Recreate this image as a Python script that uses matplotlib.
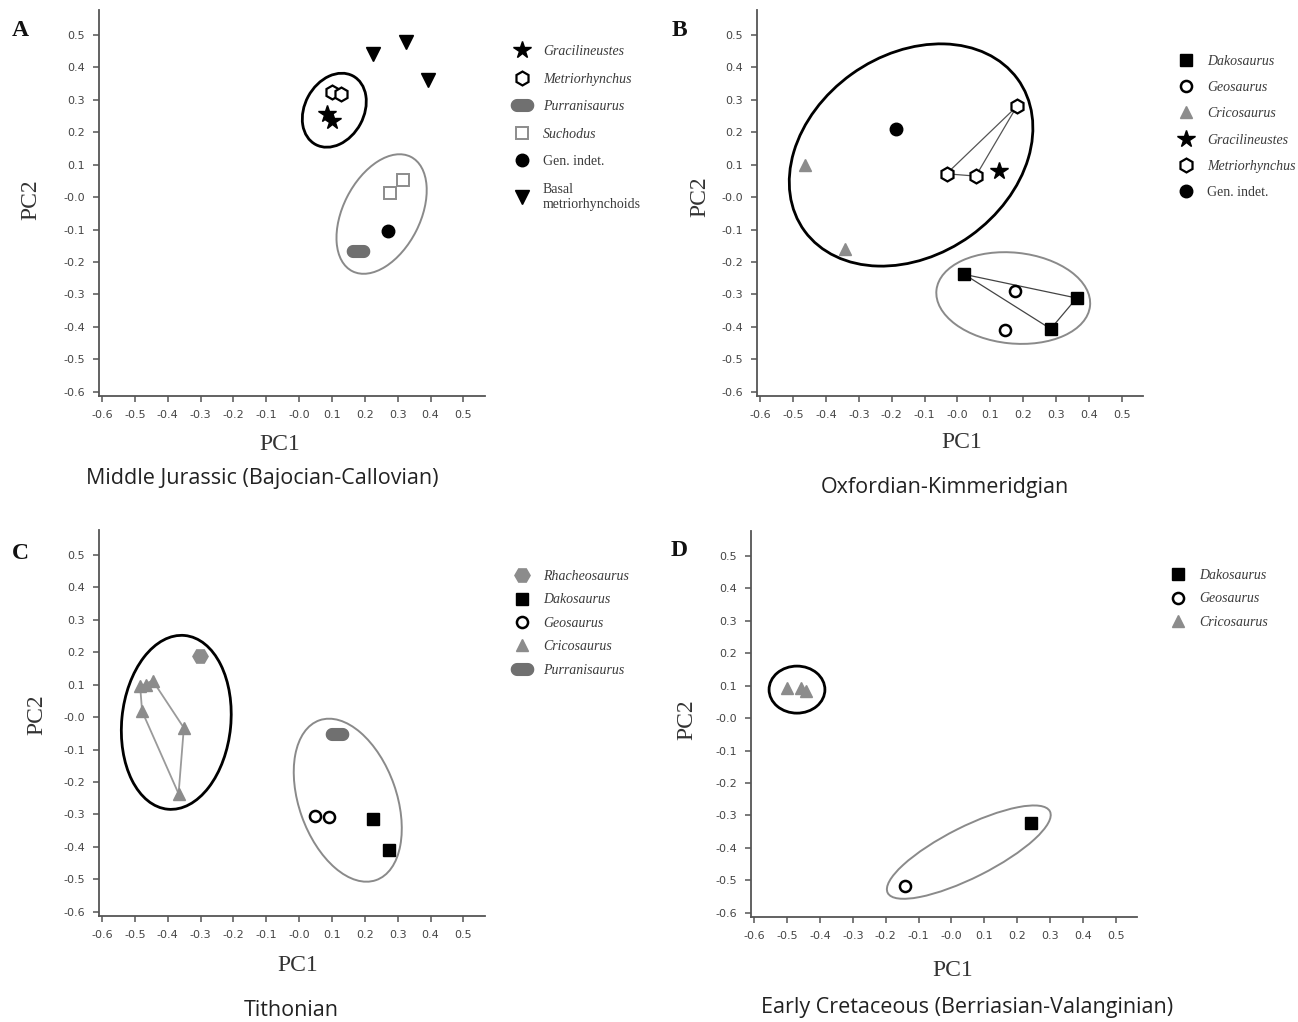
import numpy as np
import matplotlib
matplotlib.use("Agg")
import matplotlib.pyplot as plt
from matplotlib.patches import Ellipse
from matplotlib.path import Path
from matplotlib.font_manager import FontProperties


# ---- panel A: Middle Jurassic ----
a_grac_x = [0.085, 0.10]
a_grac_y = [0.257, 0.234]
a_metrio_x = [0.10, 0.126]
a_metrio_y = [0.324, 0.317]
a_purran_x = [0.18]
a_purran_y = [-0.166]
a_such_x = [0.277, 0.316]
a_such_y = [0.012, 0.053]
a_gen_x = [0.27]
a_gen_y = [-0.103]
a_basal_x = [0.224, 0.325, 0.392]
a_basal_y = [0.442, 0.478, 0.36]

# ---- panel B: Oxfordian-Kimmeridgian ----
b_dako_x = [0.021, 0.363, 0.284]
b_dako_y = [-0.238, -0.311, -0.406]
b_geo_x = [0.174, 0.145]
b_geo_y = [-0.288, -0.409]
b_crico_x = [-0.465, -0.341]
b_crico_y = [0.098, -0.159]
b_grac_x = [0.126]
b_grac_y = [0.08]
b_metrio_x = [0.181, -0.033, 0.056]
b_metrio_y = [0.28, 0.072, 0.065]
b_gen_x = [-0.187]
b_gen_y = [0.211]

# ---- panel C: Tithonian ----
c_rhach_x = [-0.301]
c_rhach_y = [0.188]
c_dako_x = [0.226, 0.274]
c_dako_y = [-0.315, -0.409]
c_geo_x = [0.047, 0.091]
c_geo_y = [-0.305, -0.307]
c_crico_x = [-0.484, -0.466, -0.446, -0.478, -0.351, -0.367]
c_crico_y = [0.095, 0.100, 0.113, 0.018, -0.033, -0.236]
c_purran_x = [0.116]
c_purran_y = [-0.053]

# ---- panel D: Early Cretaceous ----
d_dako_x = [0.241]
d_dako_y = [-0.322]
d_geo_x = [-0.14]
d_geo_y = [-0.517]
d_crico_x = [-0.501, -0.459, -0.444]
d_crico_y = [0.093, 0.093, 0.085]

# ellipses: centre x, centre y, width, height, angle
a_ell_black = (0.107, 0.268, 0.24, 0.18, 62)
a_ell_grey = (0.251, -0.052, 0.395, 0.235, 63.4)
b_ell_black = (-0.141, 0.13, 0.80, 0.616, 36)
b_ell_grey = (0.17, -0.311, 0.47, 0.28, -6)
c_ell_black = (-0.374, -0.016, 0.538, 0.332, 84.5)
c_ell_grey = (0.148, -0.256, 0.522, 0.297, 109.2)
d_ell_black = (-0.47, 0.088, 0.17, 0.145, 0)
d_ell_grey = (0.053, -0.413, 0.554, 0.157, 27)

ticks = np.round(np.arange(-0.6, 0.51, 0.1), 1)
captions = ["Middle Jurassic (Bajocian-Callovian)", "Oxfordian-Kimmeridgian",
            "Tithonian", "Early Cretaceous (Berriasian-Valanginian)"]
letters = ["A", "B", "C", "D"]

W, H = 1298, 1022
AXC = "#555555"
GREY = "#8c8c8c"

# pill shaped marker for Purranisaurus
t = np.linspace(-np.pi / 2, np.pi / 2, 15)
right = np.column_stack([0.45 + 0.5 * np.cos(t), 0.5 * np.sin(t)])
left = np.column_stack([-0.45 - 0.5 * np.cos(t), -0.5 * np.sin(t)])
pill = Path(np.vstack([right, left, right[:1]]), closed=True)

styles = {
    "Gracilineustes": dict(marker="*", ms=13, mfc="black", mec="black"),
    "Metriorhynchus": dict(marker="h", ms=10, mfc="white", mec="black", mew=1.6),
    "Purranisaurus": dict(marker=pill, ms=16, mfc="#707070", mec="#707070"),
    "Suchodus": dict(marker="s", ms=8, mfc="white", mec=GREY, mew=1.4),
    "Gen. indet.": dict(marker="o", ms=9, mfc="black", mec="black"),
    "Basal\nmetriorhynchoids": dict(marker="v", ms=10, mfc="black", mec="black"),
    "Dakosaurus": dict(marker="s", ms=8, mfc="black", mec="black"),
    "Geosaurus": dict(marker="o", ms=8, mfc="white", mec="black", mew=1.8),
    "Cricosaurus": dict(marker="^", ms=8, mfc=GREY, mec=GREY),
    "Rhacheosaurus": dict(marker="H", ms=11, mfc=GREY, mec=GREY),
}


def hull(xs, ys):
    pts = sorted(zip(xs, ys))

    def cross(o, a, b):
        return (a[0] - o[0]) * (b[1] - o[1]) - (a[1] - o[1]) * (b[0] - o[0])

    lower, upper = [], []
    for p in pts:
        while len(lower) >= 2 and cross(lower[-2], lower[-1], p) <= 0:
            lower.pop()
        lower.append(p)
    for p in reversed(pts):
        while len(upper) >= 2 and cross(upper[-2], upper[-1], p) <= 0:
            upper.pop()
        upper.append(p)
    h = lower[:-1] + upper[:-1] + [lower[0]]
    return [p[0] for p in h], [p[1] for p in h]


def setup_axes(ax):
    ax.set_xlim(-0.61, 0.565)
    ax.set_ylim(-0.613, 0.577)
    for s in ["top", "right"]:
        ax.spines[s].set_visible(False)
    for s in ["left", "bottom"]:
        ax.spines[s].set_color(AXC)
        ax.spines[s].set_linewidth(1.3)
    ax.set_xticks(ticks)
    ax.set_yticks(ticks)
    ax.set_xticklabels(["{:.1f}".format(v) for v in ticks])
    ax.set_yticklabels(["{:.1f}".format(v) for v in ticks])
    ax.tick_params(direction="out", length=4, width=1.1, color=AXC,
                   labelcolor="#444444", labelsize=8, pad=6)
    ax.set_facecolor("none")


def draw_ellipse(ax, e, color, lw):
    ax.add_patch(Ellipse((e[0], e[1]), e[2], e[3], angle=e[4], fill=False,
                         edgecolor=color, linewidth=lw, zorder=2))


def add_series(ax, name, xs, ys):
    ln, = ax.plot(xs, ys, linestyle="none", label=name, zorder=4,
                  **styles[name])
    return ln


def add_legend(ax, handles, anchor, spacing):
    leg = ax.legend(handles=handles, loc="upper left",
                    bbox_to_anchor=(anchor[0] / W, 1 - anchor[1] / H),
                    bbox_transform=fig.transFigure, frameon=False,
                    borderpad=0, handlelength=1.35, handletextpad=0.8,
                    labelspacing=spacing, numpoints=1,
                    prop=FontProperties(family="Liberation Serif",
                                        style="italic", size=10))
    for txt in leg.get_texts():
        txt.set_color("#3a3a3a")
        if txt.get_text() in ("Gen. indet.", "Basal\nmetriorhynchoids"):
            txt.set_fontstyle("normal")
    return leg


fig = plt.figure(figsize=(W / 100, H / 100), dpi=100)
fig.patch.set_facecolor("white")

boxes = [(98.75, 396), (757, 396), (98.75, 916), (751, 917)]
axes = []
for (x0, y0) in boxes:
    ax = fig.add_axes([x0 / W, 1 - y0 / H, 386 / W, 386 / H])
    setup_axes(ax)
    axes.append(ax)
axA, axB, axC, axD = axes

# panel A
draw_ellipse(axA, a_ell_black, "black", 2.0)
draw_ellipse(axA, a_ell_grey, "#8a8a8a", 1.4)
hA = [add_series(axA, "Gracilineustes", a_grac_x, a_grac_y),
      add_series(axA, "Metriorhynchus", a_metrio_x, a_metrio_y),
      add_series(axA, "Purranisaurus", a_purran_x, a_purran_y),
      add_series(axA, "Suchodus", a_such_x, a_such_y),
      add_series(axA, "Gen. indet.", a_gen_x, a_gen_y),
      add_series(axA, "Basal\nmetriorhynchoids", a_basal_x, a_basal_y)]
add_legend(axA, hA, (506, 38), 1.05)

# panel B
draw_ellipse(axB, b_ell_black, "black", 2.0)
draw_ellipse(axB, b_ell_grey, "#8a8a8a", 1.4)
hx, hy = hull(b_metrio_x, b_metrio_y)
axB.plot(hx, hy, color="#555555", lw=0.9, zorder=3)
hx, hy = hull(b_dako_x, b_dako_y)
axB.plot(hx, hy, color="#444444", lw=0.9, zorder=3)
hB = [add_series(axB, "Dakosaurus", b_dako_x, b_dako_y),
      add_series(axB, "Geosaurus", b_geo_x, b_geo_y),
      add_series(axB, "Cricosaurus", b_crico_x, b_crico_y),
      add_series(axB, "Gracilineustes", b_grac_x, b_grac_y),
      add_series(axB, "Metriorhynchus", b_metrio_x, b_metrio_y),
      add_series(axB, "Gen. indet.", b_gen_x, b_gen_y)]
add_legend(axB, hB, (1170, 48), 0.95)

# panel C
draw_ellipse(axC, c_ell_black, "black", 2.0)
draw_ellipse(axC, c_ell_grey, "#8a8a8a", 1.4)
hx, hy = hull(c_crico_x, c_crico_y)
axC.plot(hx, hy, color="#9a9a9a", lw=1.3, zorder=3)
hC = [add_series(axC, "Rhacheosaurus", c_rhach_x, c_rhach_y),
      add_series(axC, "Dakosaurus", c_dako_x, c_dako_y),
      add_series(axC, "Geosaurus", c_geo_x, c_geo_y),
      add_series(axC, "Cricosaurus", c_crico_x, c_crico_y),
      add_series(axC, "Purranisaurus", c_purran_x, c_purran_y)]
add_legend(axC, hC, (506, 563), 0.75)

# panel D
draw_ellipse(axD, d_ell_black, "black", 2.0)
draw_ellipse(axD, d_ell_grey, "#8a8a8a", 1.4)
hD = [add_series(axD, "Dakosaurus", d_dako_x, d_dako_y),
      add_series(axD, "Geosaurus", d_geo_x, d_geo_y),
      add_series(axD, "Cricosaurus", d_crico_x, d_crico_y)]
add_legend(axD, hD, (1162, 562), 0.75)

# axis titles, captions and panel letters
serif = ["Liberation Serif", "DejaVu Serif"]
pc1_pos = [(280, 444), (962, 442), (298, 965), (953, 970)]
pc2_pos = [(31, 200), (700, 197), (37, 715), (687, 720)]
cap_pos = [(262, 478), (945, 487), (291, 1010), (967, 1007)]
let_pos = [(20, 31), (679, 30), (20, 553), (679, 550)]
for i in range(4):
    fig.text(pc1_pos[i][0] / W, 1 - pc1_pos[i][1] / H, "PC1", family=serif,
             size=17, color="#333333", ha="center", va="center")
    fig.text(pc2_pos[i][0] / W, 1 - pc2_pos[i][1] / H, "PC2", family=serif,
             size=17, color="#333333", ha="center", va="center",
             rotation=90)
    fig.text(cap_pos[i][0] / W, 1 - cap_pos[i][1] / H, captions[i],
             family=["Open Sans", "DejaVu Sans"], size=15.5,
             color="#222222", ha="center", va="center")
    fig.text(let_pos[i][0] / W, 1 - let_pos[i][1] / H, letters[i],
             family=serif, size=17, weight="bold", color="#111111",
             ha="center", va="center")

fig.savefig("out.png", dpi=100)
